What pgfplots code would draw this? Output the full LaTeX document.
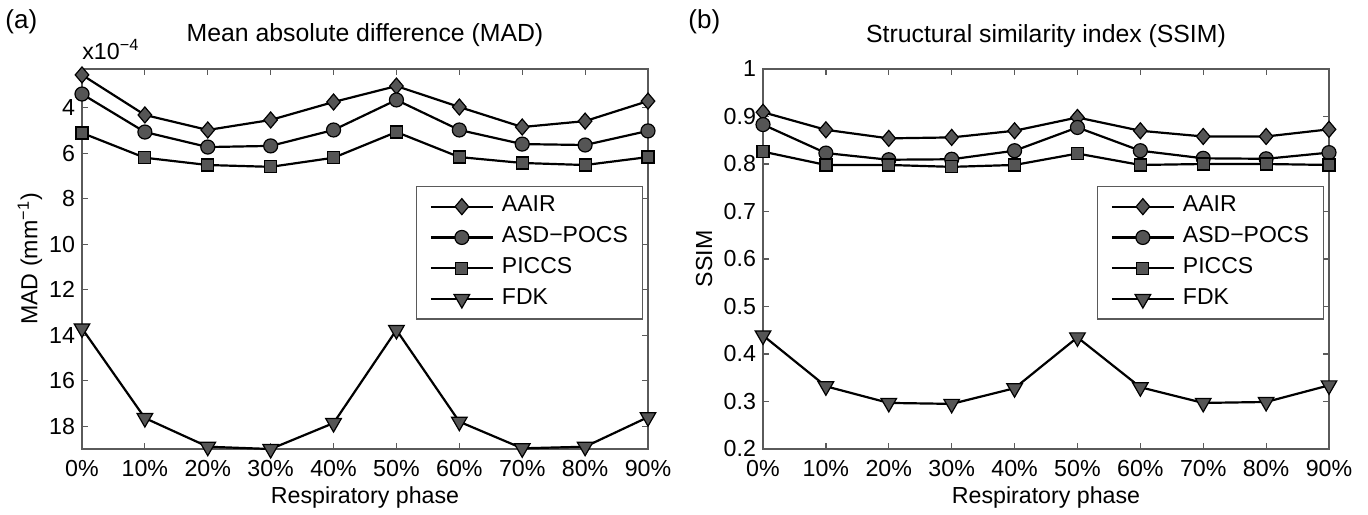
\documentclass[border=0pt]{standalone}
\usepackage{fontspec}
\setmainfont{Liberation Sans}
\usepackage{pgfplots}
\pgfplotsset{compat=1.18}

\definecolor{mk}{HTML}{555555}
\definecolor{ax}{HTML}{5A5A5A}

\newcommand{\fs}{\fontsize{11.6}{14}\selectfont}
\newcommand{\fg}{\fontsize{11.5}{13}\selectfont}
\newcommand{\ft}{\fontsize{12.4}{15}\selectfont}

\pgfplotsset{
  phase/.style={
    scale only axis, width=283pt, height=190pt,
    clip mode=individual,
    xmin=0, xmax=9, xtick={0,...,9},
    xticklabels={0\%,10\%,20\%,30\%,40\%,50\%,60\%,70\%,80\%,90\%},
    tick align=inside, major tick length=3pt,
    axis line style={ax, line width=0.6pt},
    tick style={ax, line width=0.6pt},
    font=\fs,
    /pgf/number format/assume math mode=true,
    xticklabel style={anchor=base, yshift=-13.5pt},
    xlabel={Respiratory phase},
    xlabel style={font=\fs, at={(axis description cs:0.5,0)}, anchor=base, yshift=-27pt},
    title style={font=\ft, at={(axis description cs:0.5,1)}, anchor=base, yshift=7.5pt},
    legend cell align=left,
    legend style={draw=ax, line width=0.6pt, fill=white, font=\fg,
      at={(0.992,0.692)}, anchor=north east,
      inner xsep=6.5pt, inner ysep=2.3pt, row sep=0pt, column sep=3pt,
      nodes={inner xsep=1pt, inner ysep=2.2pt, text height=8pt, text depth=3pt}},
    legend image code/.code={
      \draw[mark repeat=2, mark phase=2, #1] plot coordinates {(0pt,0pt) (15.5pt,0pt) (31pt,0pt)};
    },
  },
  ln/.style={black, line width=1.1pt,
    mark options={fill=mk, draw=black, line width=0.6pt, solid}},
  aair/.style={ln, mark=diamond*, mark size=4pt,
    every mark/.append style={xscale=1.13}},
  asd/.style={ln, mark=*, mark size=3.5pt},
  piccs/.style={ln, mark=square*, mark size=3pt},
  fdk/.style={ln, mark=triangle*, mark size=4.5pt,
    every mark/.append style={rotate=180}},
}

\begin{document}
\begin{tikzpicture}
\path[use as bounding box] (-41pt,-32.5pt) rectangle (643pt,224.5pt);

\node[anchor=north west, inner sep=0pt, font=\fontsize{13}{15}\selectfont] at (-38.5pt,220pt) {(a)};
\node[anchor=north west, inner sep=0pt, font=\fontsize{13}{15}\selectfont] at (303pt,220pt) {(b)};

\begin{axis}[phase,
  y dir=reverse, ymin=2.3, ymax=19, ytick={4,6,...,18},
  title={Mean absolute difference (MAD)},
  ylabel={MAD (mm\textsuperscript{−1})},
  ylabel style={font=\fs, at={(axis description cs:-0.092,0.5)}, anchor=center},
]
\addplot[aair] coordinates {(0,2.56) (1,4.32) (2,4.98) (3,4.54) (4,3.75) (5,3.05) (6,3.97) (7,4.85) (8,4.59) (9,3.71)};
\addplot[asd] coordinates {(0,3.40) (1,5.07) (2,5.73) (3,5.68) (4,4.98) (5,3.66) (6,4.98) (7,5.60) (8,5.64) (9,5.02)};
\addplot[piccs] coordinates {(0,5.11) (1,6.20) (2,6.52) (3,6.60) (4,6.20) (5,5.07) (6,6.17) (7,6.43) (8,6.52) (9,6.17)};
\addplot[fdk] coordinates {(0,13.70) (1,17.64) (2,18.90) (3,19.00) (4,17.86) (5,13.77) (6,17.80) (7,18.97) (8,18.90) (9,17.60)};
\legend{AAIR, ASD−POCS, PICCS, FDK}
\node[anchor=base west, inner sep=0pt] at (rel axis cs:0,1) [yshift=5pt] {x10\textsuperscript{−4}};
\end{axis}

\begin{axis}[phase, xshift=340.5pt,
  ymin=0.2, ymax=1, ytick={0.2,0.3,...,1.0},
  yticklabel style={/pgf/number format/.cd, fixed, precision=1},
  title={Structural similarity index (SSIM)},
  ylabel={SSIM},
  ylabel style={font=\fs, at={(axis description cs:-0.104,0.5)}, anchor=center},
]
\addplot[aair] coordinates {(0,0.909) (1,0.872) (2,0.854) (3,0.856) (4,0.870) (5,0.898) (6,0.870) (7,0.858) (8,0.858) (9,0.873)};
\addplot[asd] coordinates {(0,0.883) (1,0.823) (2,0.809) (3,0.810) (4,0.828) (5,0.877) (6,0.828) (7,0.812) (8,0.811) (9,0.824)};
\addplot[piccs] coordinates {(0,0.826) (1,0.798) (2,0.798) (3,0.794) (4,0.798) (5,0.822) (6,0.798) (7,0.800) (8,0.800) (9,0.798)};
\addplot[fdk] coordinates {(0,0.439) (1,0.332) (2,0.297) (3,0.295) (4,0.328) (5,0.435) (6,0.330) (7,0.297) (8,0.299) (9,0.334)};
\legend{AAIR, ASD−POCS, PICCS, FDK}
\end{axis}
\end{tikzpicture}
\end{document}
